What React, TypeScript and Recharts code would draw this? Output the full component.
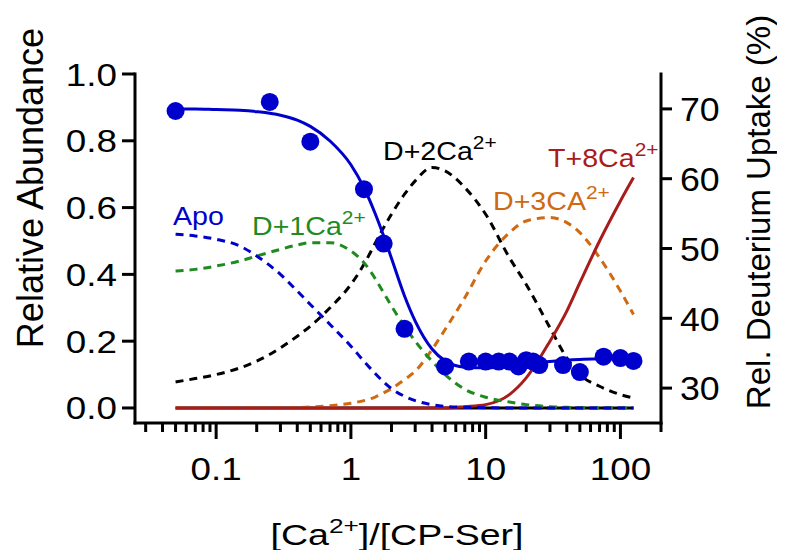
import React from 'react';
import { ComposedChart, Line, Scatter, XAxis, YAxis, Customized } from 'recharts';

// [Ca2+]/[CP-Ser] grid used for the fitted / simulated species curves
const concentrations = [0.05, 0.07, 0.1, 0.15, 0.2, 0.3, 0.4, 0.5, 0.7, 1, 1.25, 1.5, 1.75, 2, 2.5, 3, 4, 5, 7, 10, 15, 20, 30, 40, 50, 70, 100, 125];

// relative abundance (left axis)
const apo = [0.52, 0.515, 0.505, 0.485, 0.455, 0.4, 0.35, 0.31, 0.25, 0.185, 0.14, 0.105, 0.078, 0.058, 0.035, 0.022, 0.01, 0.005, 0.002, 0.001, 0, 0, 0, 0, 0, 0, 0, 0];
const d1Ca = [0.41, 0.415, 0.425, 0.44, 0.455, 0.475, 0.488, 0.495, 0.495, 0.47, 0.435, 0.39, 0.345, 0.305, 0.245, 0.2, 0.14, 0.1, 0.056, 0.032, 0.018, 0.01, 0.004, 0.002, 0.001, 0, 0, 0];
const d2Ca = [0.078, 0.088, 0.1, 0.12, 0.14, 0.18, 0.215, 0.245, 0.3, 0.37, 0.43, 0.49, 0.54, 0.58, 0.64, 0.68, 0.72, 0.71, 0.66, 0.58, 0.45, 0.37, 0.24, 0.15, 0.1, 0.065, 0.04, 0.03];
const d3Ca = [0, 0, 0, 0, 0, 0, 0.001, 0.003, 0.007, 0.014, 0.022, 0.032, 0.045, 0.058, 0.085, 0.11, 0.175, 0.235, 0.33, 0.44, 0.525, 0.56, 0.57, 0.555, 0.525, 0.45, 0.35, 0.28];
const t8Ca = [0, 0, 0, 0, 0, 0, 0, 0, 0, 0, 0, 0, 0, 0, 0, 0, 0, 0, 0.004, 0.01, 0.04, 0.09, 0.2, 0.29, 0.375, 0.5, 0.62, 0.69];
const zeroLine = [0, 0, 0, 0, 0, 0, 0, 0, 0, 0, 0, 0, 0, 0, 0, 0, 0, 0, 0, 0, 0, 0, 0, 0, 0, 0, 0, 0];

// deuterium uptake fit (right axis, %)
const uptakeFit = [70.0, 70.0, 69.9, 69.8, 69.6, 69.1, 68.4, 67.5, 65.4, 62.0, 58.7, 55.2, 51.8, 48.6, 43.2, 39.6, 35.6, 33.9, 33.0, 32.9, 33.1, 33.4, 33.8, 34.0, 34.1, 34.2, 34.2, 34.2];

// measured uptake points
const pointX = [0.05, 0.25, 0.5, 1.25, 1.75, 2.5, 5, 7.5, 10, 12.5, 15, 17.5, 20, 22.5, 25, 37.5, 50, 75, 100, 125];
const pointY = [69.7, 71.0, 65.3, 58.5, 50.7, 38.5, 33.1, 33.8, 33.8, 33.8, 33.8, 33.1, 34.0, 33.8, 33.3, 33.3, 32.3, 34.5, 34.3, 33.9];

const majorTicks = [0.1, 1, 10, 100];
const majorLabels = ['0.1', '1', '10', '100'];
const minorTicks = [0.03, 0.04, 0.05, 0.06, 0.07, 0.08, 0.09, 0.2, 0.3, 0.4, 0.5, 0.6, 0.7, 0.8, 0.9, 2, 3, 4, 5, 6, 7, 8, 9, 20, 30, 40, 50, 60, 70, 80, 90, 200];
const leftTicks = [0, 0.2, 0.4, 0.6, 0.8, 1.0];
const rightTicks = [30, 40, 50, 60, 70];

const curveRows = concentrations.map((x, i) => ({
  x,
  apo: apo[i],
  d1: d1Ca[i],
  d2: d2Ca[i],
  d3: d3Ca[i],
  t8: t8Ca[i],
  zero: zeroLine[i],
  fit: uptakeFit[i],
}));

const pointRows = pointX.map((x, i) => ({ x, uptake: pointY[i] }));

const FONT = '"Liberation Sans", Arial, Helvetica, sans-serif';
const BLUE = '#0000CC';
const GREEN = '#1F8B1F';
const ORANGE = '#CF6A12';
const RED = '#A81C1C';

const XTick = ({ x, y, payload }: any) => {
  const idx = majorTicks.indexOf(payload.value);
  const major = idx >= 0;
  return (
    <g>
      <line x1={x} x2={x} y1={y} y2={y + (major ? 16 : 9)} stroke="#000" strokeWidth={3} />
      {major && (
        <text transform={`translate(${x},${y + 57}) scale(1.15,1)`} textAnchor="middle" fontSize={32} fontFamily={FONT} fill="#000">
          {majorLabels[idx]}
        </text>
      )}
    </g>
  );
};

const LeftTick = ({ x, y, payload }: any) => (
  <text transform={`translate(${x},${y}) scale(1.15,1)`} dy="0.36em" textAnchor="end" fontSize={32} fontFamily={FONT} fill="#000">
    {Number(payload.value).toFixed(1)}
  </text>
);

const RightTick = ({ x, y, payload }: any) => (
  <text transform={`translate(${x},${y}) scale(1.05,1)`} dy="0.36em" textAnchor="start" fontSize={34} fontFamily={FONT} fill="#000">
    {payload.value}
  </text>
);

const Sup = ({ children }: any) => (
  <tspan dy={-11} fontSize={19}>{children}</tspan>
);

const Annotations = () => (
  <g fontFamily={FONT}>
    <text transform="translate(165,217) scale(1.1,1)" fontSize={26} fill={BLUE}>Apo</text>
    <text transform="translate(244,227) scale(1.1,1)" fontSize={26} fill={GREEN}>D+1Ca<Sup>2+</Sup></text>
    <text transform="translate(375,152) scale(1.1,1)" fontSize={26} fill="#000">D+2Ca<Sup>2+</Sup></text>
    <text transform="translate(485,202) scale(1.1,1)" fontSize={26} fill={ORANGE}>D+3CA<Sup>2+</Sup></text>
    <text transform="translate(540,159) scale(1.1,1)" fontSize={26} fill={RED}>T+8Ca<Sup>2+</Sup></text>

    <text transform="translate(35,180) rotate(-90)" textAnchor="middle" fontSize={36} fill="#000">Relative Abundance</text>
    <text transform="translate(762,204) rotate(-90)" textAnchor="middle" fontSize={33} fill="#000">Rel. Deuterium Uptake (%)</text>
    <text transform="translate(389,537) scale(1.25,1)" textAnchor="middle" fontSize={30} fill="#000">
      [Ca<tspan dy={-12} fontSize={21}>2+</tspan><tspan dy={12} fontSize={30}>]/[CP-Ser]</tspan>
    </text>
  </g>
);

const axisLine = { stroke: '#000', strokeWidth: 3, strokeLinecap: 'square' as const };
const tickLine = { stroke: '#000', strokeWidth: 3 };

export default function App() {
  return (
    <div style={{ width: 769, height: 542 }}>
      <style>{'body { margin: 8px 8px 0 8px; }'}</style>
      <ComposedChart width={769} height={542} data={curveRows} margin={{ top: 66, right: 0, bottom: 67, left: 0 }}>
        <XAxis
          dataKey="x"
          type="number"
          scale="log"
          domain={[0.025, 200]}
          allowDataOverflow
          ticks={[...minorTicks, ...majorTicks].sort((a, b) => a - b)}
          interval={0}
          tick={<XTick />}
          tickSize={0}
          tickMargin={0}
          tickLine={false}
          axisLine={axisLine}
          height={60}
        />
        <YAxis
          yAxisId="left"
          type="number"
          domain={[-0.045, 1]}
          allowDataOverflow
          ticks={leftTicks}
          interval={0}
          width={127}
          tickSize={13}
          tickMargin={5}
          tickLine={tickLine}
          axisLine={axisLine}
          tick={<LeftTick />}
        />
        <YAxis
          yAxisId="right"
          orientation="right"
          type="number"
          domain={[25, 75]}
          allowDataOverflow
          ticks={rightTicks}
          interval={0}
          width={116}
          tickSize={11}
          tickMargin={8}
          tickLine={tickLine}
          axisLine={axisLine}
          tick={<RightTick />}
        />

        <Line yAxisId="left" dataKey="zero" type="linear" stroke="#000" strokeWidth={3} dot={false} activeDot={false} isAnimationActive={false} />
        <Line yAxisId="left" dataKey="d2" type="monotone" stroke="#000" strokeWidth={3} strokeDasharray="8 6" dot={false} activeDot={false} isAnimationActive={false} />
        <Line yAxisId="left" dataKey="d3" type="monotone" stroke={ORANGE} strokeWidth={3} strokeDasharray="8 6" dot={false} activeDot={false} isAnimationActive={false} />
        <Line yAxisId="left" dataKey="t8" type="monotone" stroke={RED} strokeWidth={3} dot={false} activeDot={false} isAnimationActive={false} />
        <Line yAxisId="left" dataKey="d1" type="monotone" stroke={GREEN} strokeWidth={3} strokeDasharray="8 6" dot={false} activeDot={false} isAnimationActive={false} />
        <Line yAxisId="left" dataKey="apo" type="monotone" stroke={BLUE} strokeWidth={3} strokeDasharray="8 6" dot={false} activeDot={false} isAnimationActive={false} />
        <Line yAxisId="right" dataKey="fit" type="monotone" stroke={BLUE} strokeWidth={3} dot={false} activeDot={false} isAnimationActive={false} />
        <Scatter
          yAxisId="right"
          data={pointRows}
          dataKey="uptake"
          fill={BLUE}
          isAnimationActive={false}
          shape={(p: any) => <circle cx={p.cx} cy={p.cy} r={9} fill={BLUE} />}
        />
        <Customized component={Annotations} />
      </ComposedChart>
    </div>
  );
}
